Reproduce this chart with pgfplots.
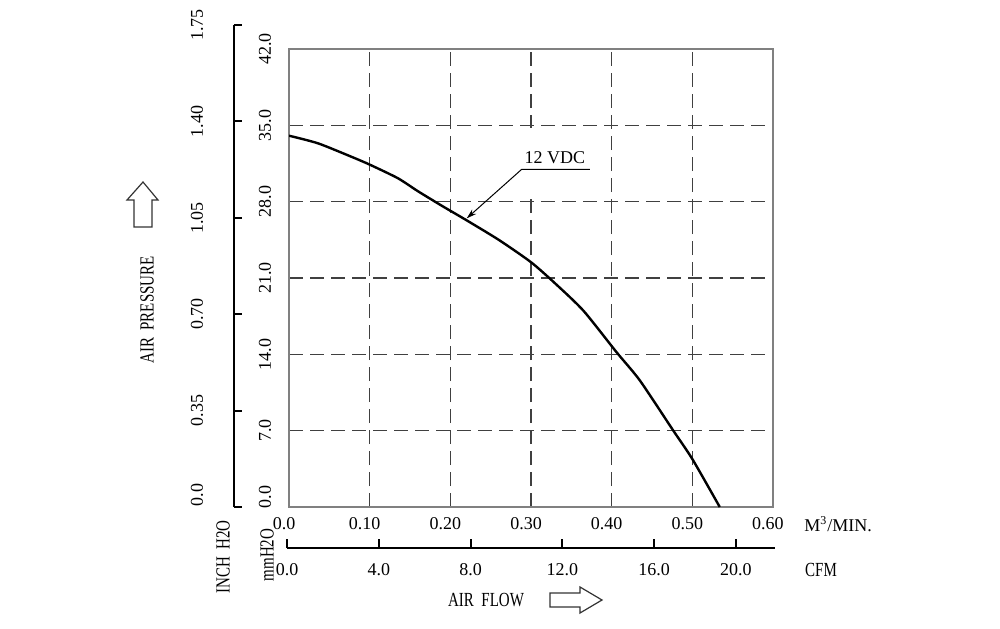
\documentclass[border=0pt]{standalone}
\usepackage{pgfplots}
\pgfplotsset{compat=1.18}
\usepackage{fontspec}
\setmainfont{Liberation Serif}
\newfontfamily\narrowfont{Liberation Serif}[FakeStretch=0.75]
\usetikzlibrary{arrows.meta}

\pgfplotsset{
  every tick label/.append style={font=\fontsize{9}{10}\selectfont},
}

\begin{document}
\begin{tikzpicture}[font=\fontsize{9}{10}\selectfont]
\fill[white] (0,0) rectangle (500pt,314pt);

% pressure / flow curve
\begin{axis}[
  at={(144.5pt,60.5pt)}, anchor=south west,
  scale only axis, width=242pt, height=229pt,
  xmin=0, xmax=0.6, ymin=0, ymax=42,
  xtick={0,0.1,0.2,0.3,0.4,0.5,0.6},
  xticklabels={0.0,0.10,0.20,0.30,0.40,0.50,0.60},
  ytick={0,7,14,21,28,35,42},
  yticklabels={\hspace*{10pt}0.0,7.0,14.0,21.0,28.0,35.0,42.0},
  major tick length=0pt,
  grid=major,
  major grid style={dash pattern=on 7pt off 3.5pt, line width=0.55pt, black!75},
  axis line style={gray, line width=0.8pt},
  xticklabel style={xshift=-2.5pt, yshift=-8.5pt, anchor=center},
  yticklabel style={xshift=-12pt, rotate=90, anchor=center},
]
% keep the label area free of the 0.30 grid line
\draw[white, line width=2pt] (axis cs:0.3,28.25) -- (axis cs:0.3,34.75);
\addplot[black, line width=1.2pt, smooth, tension=0.4] coordinates {
  (0.000,34.05) (0.036,33.35) (0.078,32.10) (0.100,31.40) (0.135,30.15)
  (0.160,28.95) (0.190,27.60) (0.220,26.30) (0.260,24.50) (0.300,22.45)
  (0.330,20.50) (0.365,18.00) (0.406,14.20) (0.435,11.60) (0.476,7.05)
  (0.500,4.40) (0.534,0.00)
};
\draw[line width=0.5pt, -{Stealth[length=5pt,width=3pt]}]
  (axis cs:0.373,30.97) -- (axis cs:0.2885,30.97) -- (axis cs:0.2203,26.47);
\node at (axis cs:0.3297,32.0) {12 VDC};
\end{axis}

% inch H2O scale
\begin{axis}[
  at={(117pt,60.5pt)}, anchor=south west,
  scale only axis, width=20pt, height=241pt,
  xmin=0, xmax=1, ymin=0, ymax=1.75,
  axis y line*=left, axis x line=none,
  ytick={0,0.35,0.7,1.05,1.4,1.75},
  yticklabels={\hspace*{12pt}0.0,0.35,0.70,1.05,1.40,1.75},
  tick align=inside, major tick length=4pt,
  axis line style={line width=1.3pt},
  tick style={line width=1pt, black},
  yticklabel style={xshift=-18.5pt, rotate=90, anchor=center},
]
\end{axis}

% CFM scale
\begin{axis}[
  at={(143.5pt,40pt)}, anchor=south west,
  scale only axis, width=244pt, height=20pt,
  xmin=0, xmax=21.27, ymin=0, ymax=1,
  axis x line*=bottom, axis y line=none,
  xtick={0,4,8,12,16,19.56},
  xticklabels={0.0,4.0,8.0,12.0,16.0,20.0},
  tick align=inside, major tick length=4.3pt,
  axis line style={line width=1.3pt},
  tick style={line width=1pt, black},
  xticklabel style={yshift=-11pt, anchor=center},
]
\end{axis}

\begin{scope}[x=0.5pt, y=-0.5pt, yshift=314pt]
% units and titles
\node at (838,524) {M\textsuperscript{3}/MIN.};
\node[font=\narrowfont] at (821,570) {CFM};
\node[font=\narrowfont, rotate=90] at (223,557) {INCH\ \ H2O};
\node[font=\narrowfont, rotate=90] at (267,555) {mmH2O};
\node[font=\narrowfont] at (486,600) {AIR\ \ FLOW};
\node[font=\narrowfont, rotate=90] at (147,310) {AIR\ \ PRESSURE};

% direction arrows
\draw[line width=0.6pt, black!80]
  (550,593) -- (580,593) -- (580,587) -- (602,600) -- (580,613) -- (580,607) -- (550,607) -- cycle;
\draw[line width=0.6pt, black!80]
  (134,227) -- (134,200) -- (127,200) -- (143,182) -- (158,200) -- (152,200) -- (152,227) -- cycle;
\end{scope}
\end{tikzpicture}
\end{document}
